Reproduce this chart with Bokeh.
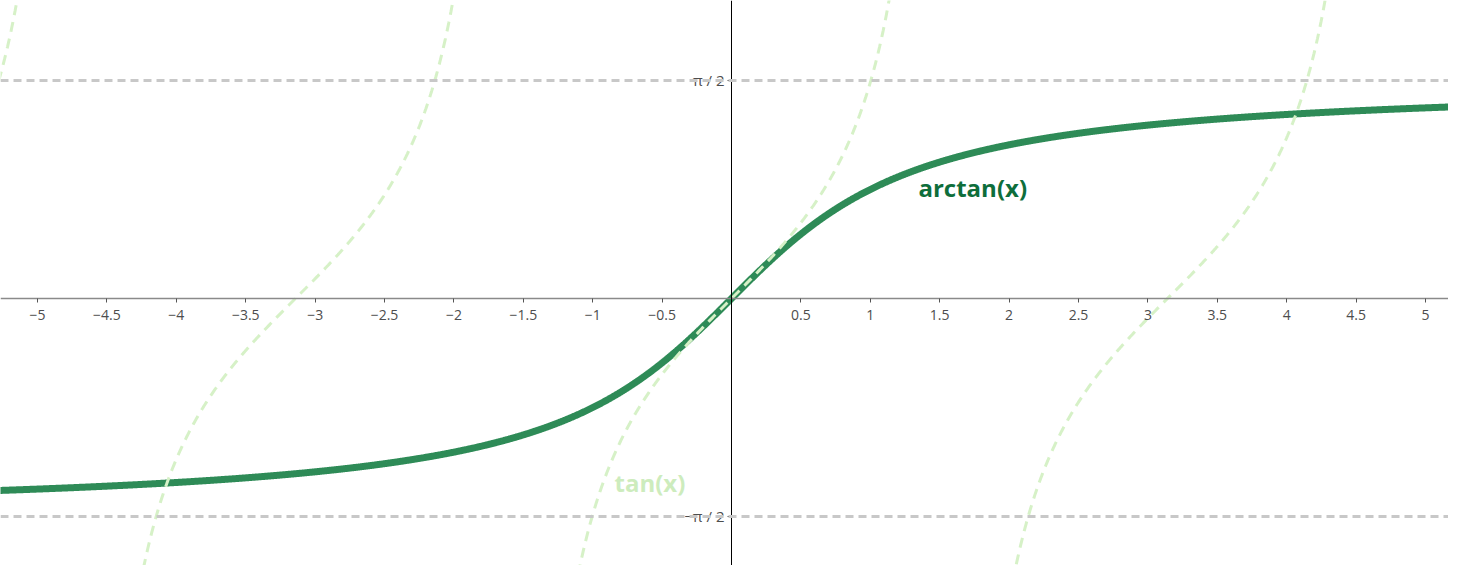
import numpy as np
from bokeh.plotting import figure
from bokeh.models import LinearAxis, FixedTicker, Span, Label
from bokeh.embed import file_html
from bokeh.resources import INLINE

# data
x_ticks = [-5, -4.5, -4, -3.5, -3, -2.5, -2, -1.5, -1, -0.5, 0.5, 1, 1.5, 2, 2.5, 3, 3.5, 4, 4.5, 5]
x_tick_labels = {t: (("\u2212" + f"{abs(t):g}") if t < 0 else f"{t:g}") for t in x_ticks}
y_ticks = [-np.pi / 2, np.pi / 2]
y_tick_labels = {y_ticks[0]: "\u2212\u03c0 / 2", y_ticks[1]: "\u03c0 / 2"}

xs = np.linspace(-5.4, 5.4, 3000)
arctan_y = np.arctan(xs)
tan_y = np.tan(xs)
tan_y[np.abs(tan_y) > 6] = np.nan

p = figure(width=1448, height=565, x_range=(-5.267, 5.166), y_range=(-1.924, 2.147),
           output_backend="svg", toolbar_location=None, x_axis_type=None, y_axis_type=None,
           min_border=0, outline_line_color=None)
p.xgrid.visible = False
p.ygrid.visible = False

for yv in y_ticks:
    p.add_layout(Span(location=yv, dimension="width", line_color="#c8c8c8",
                      line_width=3, line_dash="8 5"))

xa = LinearAxis(fixed_location=0, ticker=FixedTicker(ticks=x_ticks),
                major_label_overrides=x_tick_labels)
xa.axis_line_color = "#8a8a8a"
xa.axis_line_width = 1.5
xa.major_tick_line_color = "#555555"
xa.major_tick_in = 0
xa.major_tick_out = 4
xa.minor_tick_line_color = None
xa.major_label_text_font = "Open Sans"
xa.major_label_text_font_size = "14px"
xa.major_label_text_color = "#4d4d4d"
xa.major_label_standoff = 8
p.add_layout(xa, "below")

ya = LinearAxis(fixed_location=0, ticker=FixedTicker(ticks=y_ticks),
                major_label_overrides=y_tick_labels)
ya.axis_line_color = "#000000"
ya.axis_line_width = 1
ya.major_tick_line_color = "#555555"
ya.major_tick_in = 0
ya.major_tick_out = 4
ya.minor_tick_line_color = None
ya.major_label_text_font = "Open Sans"
ya.major_label_text_font_size = "15px"
ya.major_label_text_color = "#4d4d4d"
ya.major_label_standoff = 3
ya.major_label_orientation = "horizontal"
p.add_layout(ya, "left")

p.line(xs, arctan_y, line_color="#2e8b57", line_width=7)
p.line(xs, tan_y, line_color="#d6f1c7", line_width=3, line_dash="10 7")

p.add_layout(Label(x=1.347, y=0.80, text="arctan(x)", text_font="Open Sans",
                   text_font_style="bold", text_font_size="24px", text_color="#0e6e3b",
                   text_baseline="middle", text_align="left"))
p.add_layout(Label(x=-0.843, y=-1.326, text="tan(x)", text_font="Open Sans",
                   text_font_style="bold", text_font_size="24px", text_color="#cdecbd",
                   text_baseline="middle", text_align="left"))

open("out.html", "w").write(file_html(p, INLINE))
